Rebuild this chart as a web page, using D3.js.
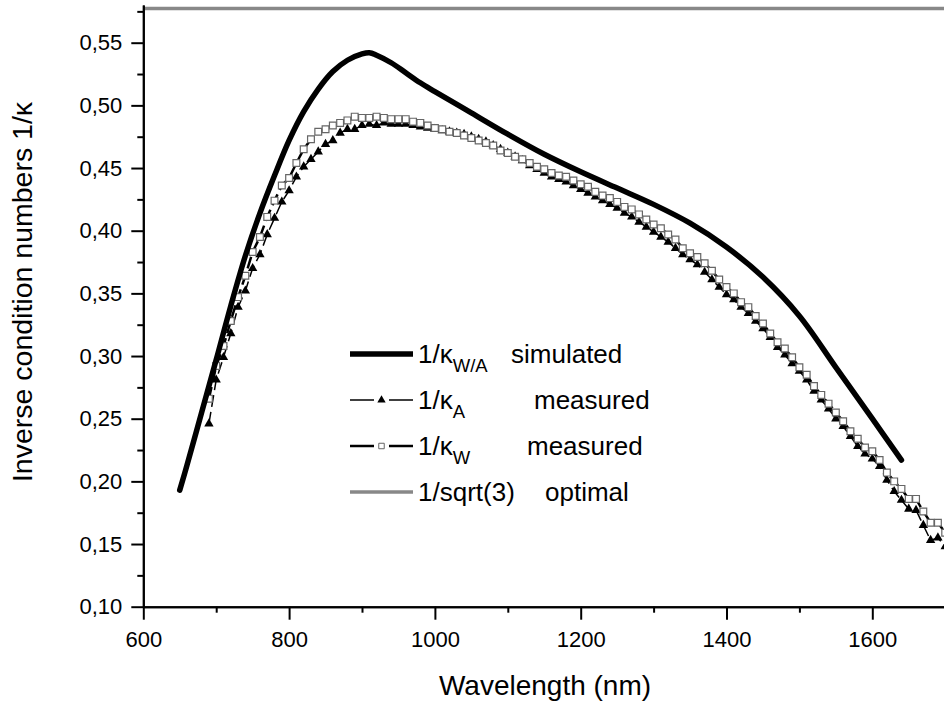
<!DOCTYPE html>
<html><head><meta charset="utf-8">
<script src="https://cdn.jsdelivr.net/npm/d3@7"></script>
<style>body{margin:0;background:#fff}svg{display:block}text{font-family:"Liberation Sans",Arial,sans-serif;fill:#000}</style>
</head><body><svg id="c" width="944" height="706"></svg>
<script>
// ---------- data ----------
const simWl  = [650,660,680,700,720,740,760,780,800,820,840,860,880,900,910,920,940,960,980,1000,1050,1100,1150,1200,1250,1300,1350,1400,1450,1500,1550,1600,1640];
const simVal = [0.193,0.213,0.255,0.297,0.340,0.380,0.414,0.444,0.472,0.495,0.513,0.527,0.536,0.541,0.542,0.540,0.534,0.526,0.518,0.511,0.494,0.477,0.461,0.447,0.434,0.421,0.406,0.387,0.363,0.332,0.291,0.250,0.217];

const measWl = [690,700,710,720,730,740,750,760,770,780,790,800,810,820,830,840,850,860,870,880,890,900,910,920,930,940,950,960,970,980,990,1000,1010,1020,1030,1040,1050,1060,1070,1080,1090,1100,1110,1120,1130,1140,1150,1160,1170,1180,1190,1200,1210,1220,1230,1240,1250,1260,1270,1280,1290,1300,1310,1320,1330,1340,1350,1360,1370,1380,1390,1400,1410,1420,1430,1440,1450,1460,1470,1480,1490,1500,1510,1520,1530,1540,1550,1560,1570,1580,1590,1600,1610,1620,1630,1640,1650,1660,1670,1680,1690,1700];
const kappaA = [0.246,0.281,0.299,0.318,0.339,0.352,0.370,0.381,0.397,0.410,0.423,0.432,0.443,0.451,0.457,0.463,0.469,0.472,0.478,0.481,0.481,0.484,0.485,0.484,0.486,0.485,0.485,0.485,0.484,0.483,0.482,0.481,0.480,0.479,0.478,0.477,0.475,0.473,0.471,0.468,0.465,0.462,0.459,0.456,0.452,0.449,0.446,0.443,0.441,0.439,0.436,0.433,0.430,0.427,0.424,0.421,0.418,0.414,0.411,0.407,0.403,0.399,0.395,0.391,0.386,0.381,0.377,0.373,0.367,0.361,0.355,0.349,0.345,0.339,0.334,0.328,0.322,0.315,0.307,0.301,0.294,0.288,0.281,0.272,0.265,0.258,0.250,0.244,0.236,0.228,0.222,0.218,0.212,0.201,0.192,0.185,0.178,0.177,0.165,0.153,0.155,0.148];
const kappaW = [0.266,0.292,0.308,0.328,0.347,0.364,0.383,0.395,0.411,0.424,0.436,0.442,0.454,0.465,0.473,0.479,0.481,0.484,0.486,0.488,0.491,0.490,0.490,0.491,0.490,0.489,0.489,0.489,0.487,0.486,0.484,0.482,0.481,0.479,0.478,0.476,0.474,0.472,0.470,0.468,0.464,0.462,0.459,0.457,0.454,0.451,0.449,0.446,0.444,0.443,0.440,0.437,0.435,0.431,0.428,0.426,0.423,0.419,0.417,0.413,0.409,0.405,0.402,0.397,0.393,0.386,0.382,0.379,0.374,0.368,0.361,0.355,0.350,0.343,0.339,0.332,0.326,0.318,0.311,0.306,0.299,0.291,0.285,0.276,0.269,0.262,0.255,0.248,0.240,0.234,0.227,0.224,0.217,0.207,0.200,0.194,0.186,0.186,0.176,0.167,0.167,0.159];

const optimalVal = 1 / Math.sqrt(3);

const xMajorTicks = [600,800,1000,1200,1400,1600];
const xMinorTicks = [700,900,1100,1300,1500,1700];
const yMajorTicks = [0.10,0.15,0.20,0.25,0.30,0.35,0.40,0.45,0.50,0.55];
const yMinorTicks = [0.125,0.175,0.225,0.275,0.325,0.375,0.425,0.475,0.525,0.575];

const xTitle = "Wavelength (nm)";
const yTitle = "Inverse condition numbers 1/κ";

// ---------- chart ----------
const svg = d3.select("#c");
const x = d3.scaleLinear().domain([600,1700]).range([143.3,945.2]);
const y = d3.scaleLinear().domain([0.10,0.58]).range([606.7,5.1]);
const fmt = v => d3.format(".2f")(v).replace(".", ",");

// optimal line
svg.append("line").attr("x1", x(600)).attr("x2", x(1700))
  .attr("y1", y(optimalVal)).attr("y2", y(optimalVal))
  .attr("stroke", "#888").attr("stroke-width", 3.5);

// axes
const gx = svg.append("g").attr("transform", `translate(0,${y(0.10)})`)
  .call(d3.axisBottom(x).tickValues(xMajorTicks).tickSize(13).tickSizeOuter(0).tickPadding(12).tickFormat(d3.format("d")));
const gxm = svg.append("g").attr("transform", `translate(0,${y(0.10)})`)
  .call(d3.axisBottom(x).tickValues(xMinorTicks).tickSize(6).tickSizeOuter(0).tickFormat(""));
const gy = svg.append("g").attr("transform", `translate(${x(600)},0)`)
  .call(d3.axisLeft(y).tickValues(yMajorTicks).tickSize(12).tickSizeOuter(0).tickPadding(9).tickFormat(fmt));
const gym = svg.append("g").attr("transform", `translate(${x(600)},0)`)
  .call(d3.axisLeft(y).tickValues(yMinorTicks).tickSize(6).tickSizeOuter(0).tickFormat(""));
[gx,gxm,gy,gym].forEach(g => {
  g.selectAll("path.domain").attr("stroke", "#000").attr("stroke-width", 2);
  g.selectAll(".tick line").attr("stroke", "#000").attr("stroke-width", 2);
  g.selectAll(".tick text").attr("font-size", 22).attr("font-family", '"Liberation Sans",Arial,sans-serif').attr("fill", "#000");
});

// titles
svg.append("text").attr("x", 545).attr("y", 695).attr("text-anchor", "middle")
  .attr("font-size", 28).text(xTitle);
svg.append("text").attr("transform", "translate(32,292) rotate(-90)").attr("text-anchor", "middle")
  .attr("font-size", 28.5).text(yTitle);

// measured series
const line = d3.line().x(d => x(d[0])).y(d => y(d[1]));
const dataA = measWl.map((w,i) => [w, kappaA[i]]);
const dataW = measWl.map((w,i) => [w, kappaW[i]]);
svg.append("path").attr("d", line(dataA)).attr("fill", "none").attr("stroke", "#000")
  .attr("stroke-width", 1.5).attr("stroke-dasharray", "12,5");
svg.append("path").attr("d", line(dataW)).attr("fill", "none").attr("stroke", "#000")
  .attr("stroke-width", 2.5).attr("stroke-dasharray", "12,5");
const tri = d3.symbol().type(d3.symbolTriangle).size(38);
const sq = d3.symbol().type(d3.symbolSquare).size(46);
svg.append("g").selectAll("path").data(dataA).join("path")
  .attr("d", tri).attr("transform", d => `translate(${x(d[0])},${y(d[1])})`).attr("fill", "#000");
svg.append("g").selectAll("path").data(dataW).join("path")
  .attr("d", sq).attr("transform", d => `translate(${x(d[0])},${y(d[1])})`)
  .attr("fill", "#fff").attr("stroke", "#666").attr("stroke-width", 1.2);

// simulated
svg.append("path").attr("d", d3.line().curve(d3.curveCatmullRom).x((d,i) => x(simWl[i])).y(d => y(d))(simVal))
  .attr("fill", "none").attr("stroke", "#000").attr("stroke-width", 5.5).attr("stroke-linecap", "round").attr("stroke-linejoin", "round");

// legend
const lg = svg.append("g");
const lx0 = 350, lx1 = 413, tx = 418;
const rows = [354, 400, 446, 492];
lg.append("line").attr("x1", lx0).attr("x2", lx1).attr("y1", rows[0]).attr("y2", rows[0]).attr("stroke", "#000").attr("stroke-width", 5.5);
[[1, 1.5], [2, 2.5]].forEach(([r, w]) => {
  lg.append("line").attr("x1", lx0).attr("x2", lx0 + 24).attr("y1", rows[r]).attr("y2", rows[r]).attr("stroke", "#000").attr("stroke-width", w);
  lg.append("line").attr("x1", lx1 - 24).attr("x2", lx1).attr("y1", rows[r]).attr("y2", rows[r]).attr("stroke", "#000").attr("stroke-width", w);
});
lg.append("path").attr("d", d3.symbol().type(d3.symbolTriangle).size(30)()).attr("transform", `translate(381.5,${rows[1]})`).attr("fill", "#000");
lg.append("path").attr("d", d3.symbol().type(d3.symbolSquare).size(30)()).attr("transform", `translate(381.5,${rows[2]})`).attr("fill", "#fff").attr("stroke", "#666").attr("stroke-width", 1);
lg.append("line").attr("x1", lx0).attr("x2", lx1).attr("y1", rows[3]).attr("y2", rows[3]).attr("stroke", "#888").attr("stroke-width", 3.5);

const legendItems = [
  {main: "1/κ", sub: "W/A", word: "simulated", wx: 511},
  {main: "1/κ", sub: "A", word: "measured", wx: 534},
  {main: "1/κ", sub: "W", word: "measured", wx: 527},
  {main: "1/sqrt(3)", sub: "", word: "optimal", wx: 545}
];
legendItems.forEach((it, i) => {
  const t = lg.append("text").attr("x", tx).attr("y", rows[i] + 9).attr("font-size", 26);
  t.append("tspan").text(it.main);
  if (it.sub) t.append("tspan").attr("font-size", 18.5).attr("dy", 9).text(it.sub);
  lg.append("text").attr("x", it.wx).attr("y", rows[i] + 9).attr("font-size", 26).text(it.word);
});
</script></body></html>
